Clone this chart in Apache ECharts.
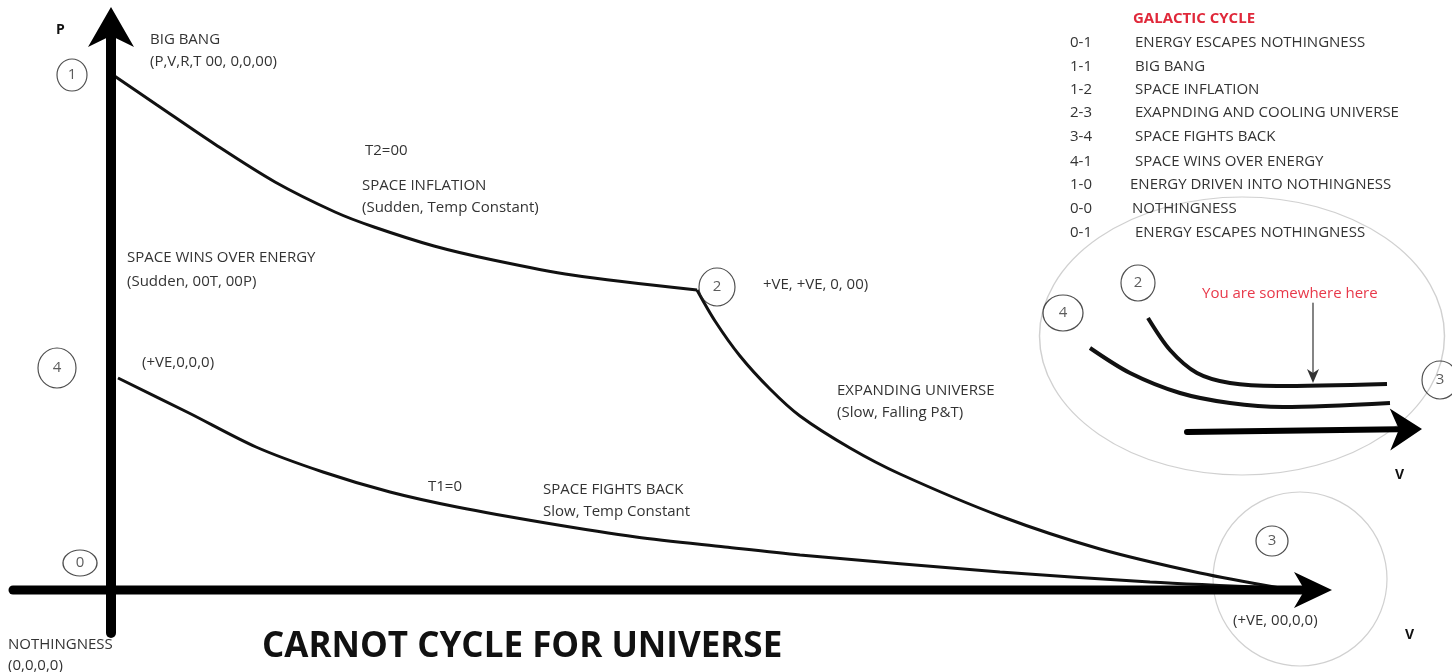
<!DOCTYPE html>
<html>
<head>
<meta charset="utf-8">
<script src="https://cdn.jsdelivr.net/npm/echarts@6/dist/echarts.min.js"></script>
<style>
  html, body { margin: 0; padding: 0; background: #fff; }
  #chart { width: 1452px; height: 672px; }
</style>
</head>
<body>
<div id="chart"></div>
<script>
// curves of the cycle (x, y in picture units)
const curve12 = [[113, 75], [157, 105], [216, 145], [275, 182], [335, 212], [374, 227], [434, 246], [493, 260], [572, 275], [697, 290]];
const curve23 = [[697, 290], [715, 321], [740, 356], [770, 389], [800, 416], [850, 448], [900, 474], [1000, 516], [1100, 549], [1200, 573], [1280, 588]];
const curve43 = [[118, 378], [189, 413], [256, 447], [323, 472], [390, 492], [457, 507], [546, 523], [636, 537], [725, 547], [800, 555], [1000, 572], [1150, 582], [1280, 588]];
// inset (galactic cycle)
const insetUpper = [[1148, 318], [1170, 350], [1197, 373], [1230, 383], [1277, 386], [1387, 384]];
const insetLower = [[1090, 348], [1130, 373], [1180, 393], [1230, 403], [1283, 407], [1390, 403]];

// arrows: from x, from y, to x, to y
const arrows = [
  [111, 633, 111, 7],     // P axis
  [13, 590, 1332, 590],   // V axis
  [1187, 432, 1422, 429], // inset V axis
  [1313, 303, 1313, 383]  // "you are here" pointer
];

// numbered states
const stateNames = ['1', '2', '4', '0', '3', '4', '2', '3'];
const statePos = [[72, 75], [717, 287], [57, 368], [80, 563], [1272, 541], [1063, 313], [1138, 283], [1440, 380]];
// the big grey outlines
const ringPos = [[1300, 579], [1242, 336]];

// texts
const notes = [
  [150, 40, 'BIG BANG'],
  [150, 62, '(P,V,R,T 00, 0,0,00)'],
  [365, 151, 'T2=00'],
  [362, 186, 'SPACE INFLATION'],
  [362, 208, '(Sudden, Temp Constant)'],
  [127, 258, 'SPACE WINS OVER ENERGY'],
  [127, 282, '(Sudden, 00T, 00P)'],
  [142, 363, '(+VE,0,0,0)'],
  [763, 285, '+VE, +VE, 0, 00)'],
  [837, 391, 'EXPANDING UNIVERSE'],
  [837, 413, '(Slow, Falling P&T)'],
  [428, 487, 'T1=0'],
  [543, 490, 'SPACE FIGHTS BACK'],
  [543, 512, 'Slow, Temp Constant'],
  [8, 645, 'NOTHINGNESS'],
  [8, 666, '(0,0,0,0)'],
  [1233, 621, '(+VE, 00,0,0)']
];
const axisNames = [[56, 30, 'P'], [1405, 635, 'V'], [1395, 475, 'V']];
const legendCodes = ['0-1', '1-1', '1-2', '2-3', '3-4', '4-1', '1-0', '0-0', '0-1'];
const legendItems = ['ENERGY ESCAPES NOTHINGNESS', 'BIG BANG', 'SPACE INFLATION', 'EXAPNDING AND COOLING UNIVERSE',
  'SPACE FIGHTS BACK', 'SPACE WINS OVER ENERGY', 'ENERGY DRIVEN INTO NOTHINGNESS', 'NOTHINGNESS', 'ENERGY ESCAPES NOTHINGNESS'];
const legendRowY = [43, 67, 90, 113, 137, 162, 185, 209, 233];
const legendItemX = [1135, 1135, 1135, 1135, 1135, 1135, 1130, 1132, 1135];

const FONT = "'Open Sans', 'Noto Sans', sans-serif";

const chart = echarts.init(document.getElementById('chart'));

// arrow look per arrow: shaft width, head length, head half width
const arrowLook = [
  { w: 10, len: 40, half: 23, color: '#000' },
  { w: 9, len: 38, half: 18, color: '#000' },
  { w: 6, len: 32, half: 21, color: '#000' },
  { w: 1.2, len: 14, half: 6, color: '#333' }
];

function renderArrow(params, api) {
  const a = api.coord([api.value(0), api.value(1)]);
  const b = api.coord([api.value(2), api.value(3)]);
  const s = arrowLook[params.dataIndex];
  const dx = b[0] - a[0], dy = b[1] - a[1];
  const d = Math.sqrt(dx * dx + dy * dy);
  const ux = dx / d, uy = dy / d;
  const nx = -uy, ny = ux;
  const bx = b[0] - ux * s.len, by = b[1] - uy * s.len;
  const notch = [b[0] - ux * s.len * 0.72, b[1] - uy * s.len * 0.72];
  return {
    type: 'group',
    children: [
      {
        type: 'line',
        shape: { x1: a[0], y1: a[1], x2: notch[0], y2: notch[1] },
        style: { stroke: s.color, lineWidth: s.w, lineCap: 'round' }
      },
      {
        type: 'polygon',
        shape: { points: [b, [bx + nx * s.half, by + ny * s.half], notch, [bx - nx * s.half, by - ny * s.half]] },
        style: { fill: s.color }
      }
    ]
  };
}

function textSeries(data, font, color) {
  return {
    type: 'custom',
    silent: true,
    data: data,
    renderItem: function (params, api) {
      const p = api.coord([api.value(0), api.value(1)]);
      return {
        type: 'text',
        x: p[0],
        y: p[1],
        style: { text: data[params.dataIndex][2], font: font, fill: color, align: 'left', verticalAlign: 'middle' }
      };
    },
    z: 5
  };
}

function curve(data, width) {
  return {
    type: 'line',
    data: data,
    smooth: 0.3,
    showSymbol: false,
    silent: true,
    lineStyle: { color: '#111', width: width },
    z: 3
  };
}

const ringSizes = [[174, 174], [405, 278]];
const stateSizes = [[30, 32], [36, 38], [38, 40], [34, 26], [32, 30], [40, 36], [34, 36], [36, 38]];

const option = {
  animation: false,
  grid: { left: 0, right: 0, top: 0, bottom: 0 },
  xAxis: { type: 'value', min: 0, max: 1452, show: false },
  yAxis: { type: 'value', min: 0, max: 672, inverse: true, show: false },
  series: [
    {
      type: 'scatter',
      silent: true,
      data: ringPos,
      symbolSize: function (v, p) { return ringSizes[p.dataIndex]; },
      itemStyle: { color: 'rgba(0,0,0,0)', borderColor: '#c4c4c4', borderWidth: 1.2 },
      z: 1
    },
    curve(curve12, 3),
    curve(curve23, 3),
    curve(curve43, 3),
    curve(insetUpper, 4),
    curve(insetLower, 4),
    {
      type: 'custom',
      silent: true,
      data: arrows,
      renderItem: renderArrow,
      z: 4
    },
    {
      type: 'scatter',
      silent: true,
      data: statePos.map(function (p, i) { return [p[0], p[1], stateNames[i]]; }),
      symbolSize: function (v, p) { return stateSizes[p.dataIndex]; },
      itemStyle: { color: 'rgba(255,255,255,0)', borderColor: '#222', borderWidth: 1.2 },
      label: {
        show: true,
        position: 'inside',
        formatter: function (p) { return p.value[2]; },
        color: '#333',
        fontFamily: FONT,
        fontSize: 15
      },
      z: 6
    },
    textSeries(notes, "15px " + FONT, '#333'),
    textSeries(axisNames, "bold 14px " + FONT, '#111'),
    textSeries([[1202, 294, 'You are somewhere here']], "15px " + FONT, '#e8394a'),
    textSeries([[1133, 19, 'GALACTIC CYCLE']], "bold 15px " + FONT, '#e0283a'),
    textSeries(legendCodes.map(function (c, i) { return [1070, legendRowY[i], c]; }), "15px " + FONT, '#333'),
    textSeries(legendItems.map(function (t, i) { return [legendItemX[i], legendRowY[i], t]; }), "15px " + FONT, '#333'),
    textSeries([[262, 647, 'CARNOT CYCLE FOR UNIVERSE']], "bold 35px " + FONT, '#111')
  ]
};

chart.setOption(option);
</script>
</body>
</html>
